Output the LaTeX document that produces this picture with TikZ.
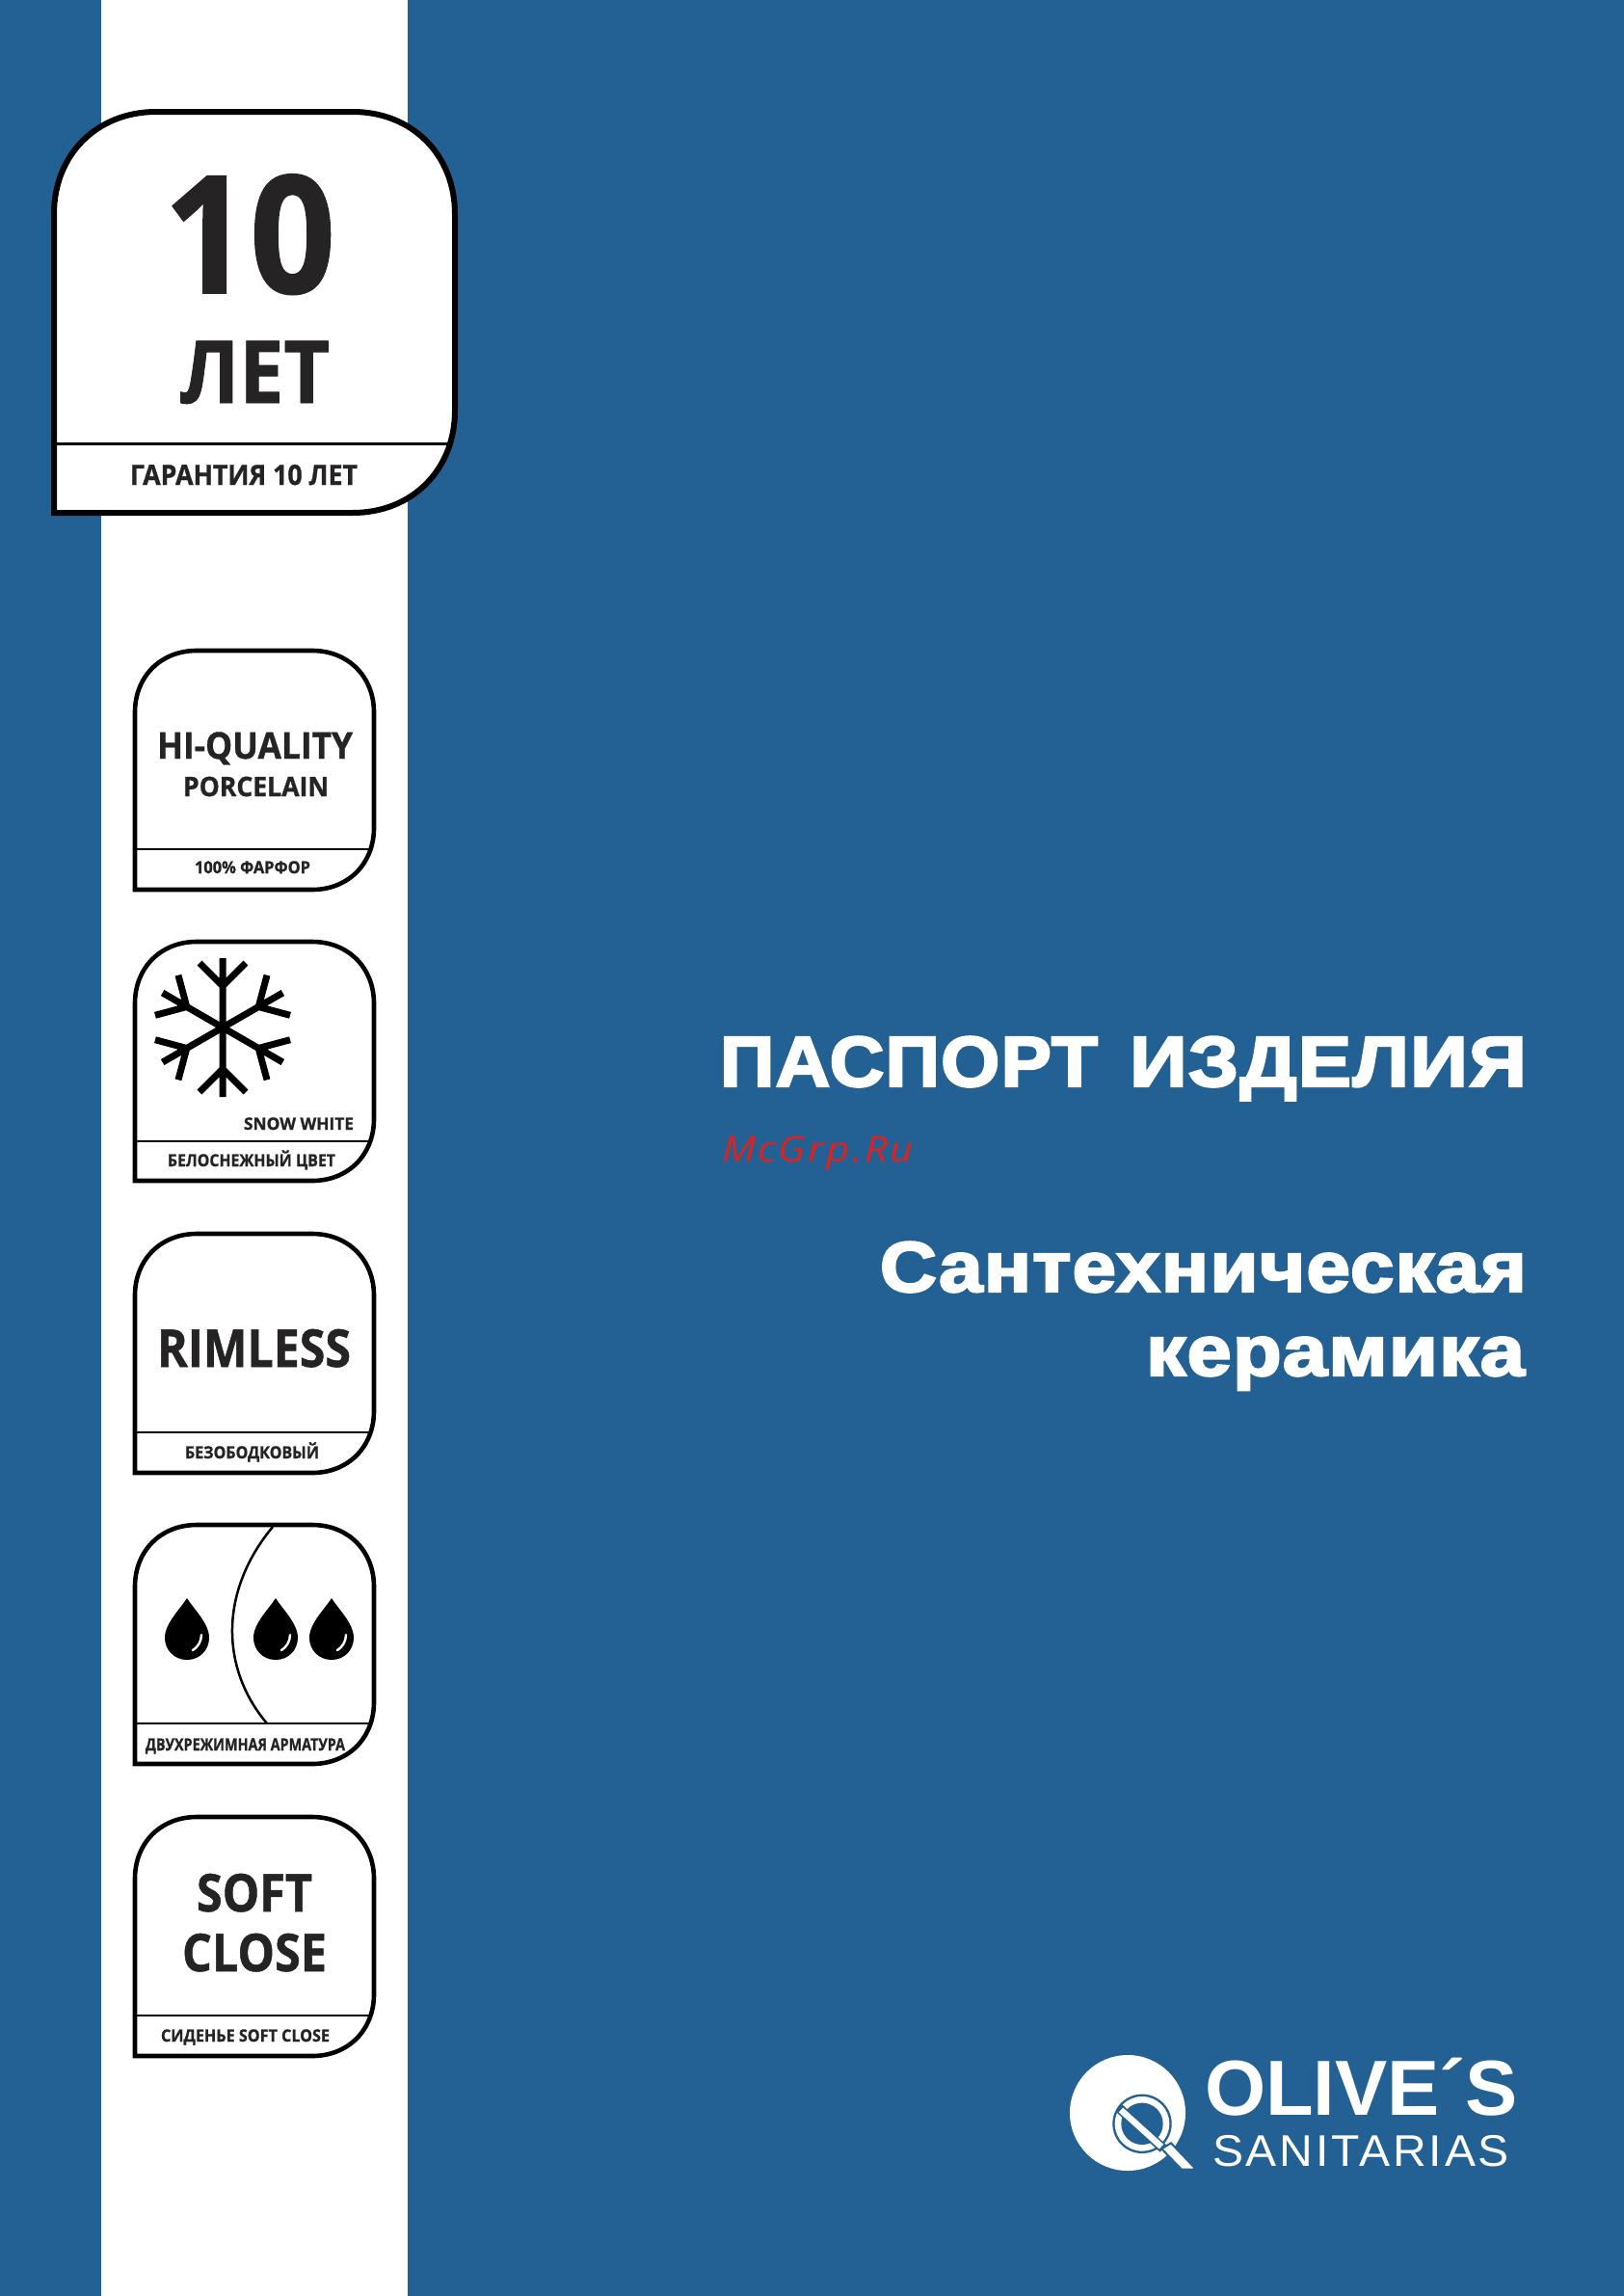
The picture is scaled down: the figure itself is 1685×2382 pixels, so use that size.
\documentclass[tikz,border=0pt]{standalone}
\usepackage{fontspec}
\usepackage{graphicx}
\newfontfamily\obold[BoldFeatures={FakeBold=1}]{Open Sans}
\newfontfamily\tfont[LetterSpace=1.5,BoldFeatures={FakeBold=3}]{Liberation Sans}
\newfontfamily\lfont{Liberation Sans}
\newfontfamily\lsp[LetterSpace=6]{Liberation Sans}
\newfontfamily\mfont[LetterSpace=6]{Open Sans}
\definecolor{bluebg}{HTML}{236093}
\definecolor{ink}{HTML}{262324}
\definecolor{wmark}{HTML}{DD2222}
\newcommand\lbl[7][]{\node[lbl,#1] (#2) at (#3,#4) {\resizebox{#5pt}{\height}{\fontsize{#6}{#6}\selectfont #7}};}
% rounded badge path: left, top, right, bottom, radius
\newcommand\bpath[5]{(#1,#4) -- (#1,#2+#5) .. controls (#1,#2+#5*.42) and (#1+#5*.42,#2) .. (#1+#5,#2)
  -- (#3-#5,#2) .. controls (#3-#5*.42,#2) and (#3,#2+#5*.42) .. (#3,#2+#5)
  -- (#3,#4-#5) .. controls (#3,#4-#5*.42) and (#3-#5*.42,#4) .. (#3-#5,#4) -- cycle}
\newcommand\badge[4]{% top, divider y, divider width, unused
  \fill[white] \bpath{140}{#1}{388}{#1+248}{64};
  \begin{scope}\clip \bpath{140}{#1}{388}{#1+248}{64};
    \draw[line width=#3pt] (140,#2) -- (388,#2);
  \end{scope}
  \draw[smallb] \bpath{140}{#1}{388}{#1+248}{64};}
\newcommand\drop[1]{\begin{scope}[shift={(#1,1698)}]
  \fill[black] (0,-40) .. controls (6,-30) and (23,-14) .. (23,1) .. controls (23,14) and (13,24) .. (0,24)
    .. controls (-13,24) and (-23,14) .. (-23,1) .. controls (-23,-14) and (-6,-30) .. (0,-40) -- cycle;
  \draw[white,line width=2.4pt,line cap=round] (15,-2) .. controls (15,5) and (11,11) .. (6,14);
\end{scope}}
\tikzset{
  x=1pt,y=-1pt,
  lbl/.style={inner sep=0pt,outer sep=0pt,anchor=base west,text=ink,font=\obold\bfseries},
  ttl/.style={text=white,font=\tfont\bfseries},
  logob/.style={text=white,font=\lfont\bfseries},
  logor/.style={text=white,font=\lsp},
  wm/.style={text=wmark,font=\mfont\itshape},
  smallb/.style={draw=black,line width=4.6pt,line join=miter},
  flake/.style={draw=black,line width=7pt},
}
\begin{document}
\begin{tikzpicture}
\useasboundingbox (0,0) rectangle (1685,2382);
\fill[bluebg] (0,0) rectangle (1685,2382);
\fill[white] (105,0) rectangle (423,2382);

% large badge
\fill[white] \bpath{56}{116}{472}{532}{106};
\begin{scope}\clip \bpath{56}{116}{472}{532}{106};
  \draw[line width=3pt] (56,460) -- (472,460);
\end{scope}
\draw[draw=black,line width=6pt] \bpath{56}{116}{472}{532}{106};
\lbl{ten}{170}{304}{178}{170}{10}
\lbl{let}{187}{418}{155}{90}{ЛЕТ}
\lbl{guar}{135}{503}{236}{29}{ГАРАНТИЯ 10 ЛЕТ}

% small badges
\badge{675}{881}{2.5}{}
\lbl{hiq}{163}{787}{203}{38}{HI-QUALITY}
\lbl{porc}{190}{826}{151}{28}{PORCELAIN}
\lbl{farf}{202}{906}{120}{17.5}{100\% ФАРФОР}

\badge{977}{1184}{2.5}{}
\begin{scope}[shift={(231,1066)}]
  \foreach \a in {0,60,...,300}{
    \draw[flake,rotate=\a] (0,0) -- (0,72) (0,43) -- (24,67) (0,43) -- (-24,67);
  }
\end{scope}
\lbl{snow}{253}{1172}{114}{17.5}{SNOW WHITE}
\lbl{bel}{174}{1210}{174}{17.5}{БЕЛОСНЕЖНЫЙ ЦВЕТ}

\badge{1280}{1486}{1.5}{}
\lbl{rim}{163}{1418}{201}{54}{RIMLESS}
\lbl{bez}{192}{1513}{139}{17.5}{БЕЗОБОДКОВЫЙ}

\badge{1582}{1788}{2.5}{}
\begin{scope}\clip \bpath{140}{1582}{388}{1788}{64};
\draw[line width=2.5pt] (283,1584) .. controls (228,1650) and (228,1730) .. (277,1788);
\end{scope}
\drop{194}\drop{286}\drop{344}
\lbl{dual}{151}{1816}{207}{17.5}{ДВУХРЕЖИМНАЯ АРМАТУРА}

\badge{1885}{2091}{1.5}{}
\lbl{soft}{204}{1983}{120}{54}{SOFT}
\lbl{close}{189}{2045}{150}{54}{CLOSE}
\lbl{sid}{167}{2118}{175}{17.5}{СИДЕНЬЕ SOFT CLOSE}

% titles
\lbl[ttl]{t1}{747}{1127}{392}{74}{ПАСПОРТ}
\lbl[ttl]{t1b}{1172}{1127}{412}{74}{ИЗДЕЛИЯ}
\lbl[wm]{wmk}{749}{1205}{199}{37}{McGrp.Ru}
\lbl[ttl]{t2}{913}{1340}{671}{74}{Сантехническая}
\lbl[ttl]{t3}{1189}{1427}{393}{74}{керамика}

% logo
\fill[white] (1170,2192) circle[radius=60];
\fill[bluebg] (1185,2203.3) circle[radius=30.7];
\fill[white] (1185,2203.3) circle[radius=28.3];
\fill[bluebg] (1185,2203.3) circle[radius=21.7];
\draw[bluebg,line width=10pt] (1161,2187) -- (1207,2229);
\draw[white,line width=6.5pt] (1163,2189) -- (1205,2227);
\filldraw[fill=white,draw=bluebg,line width=2pt,line join=miter] (1205.3,2229.3) -- (1215,2223.3) -- (1241,2250.7) -- (1226,2250.7) -- cycle;
\lbl[logob]{ol}{1250}{2194}{325}{81}{OLIVE´S}
\lbl[logor]{san}{1258}{2247}{308}{46}{SANITARIAS}
\end{tikzpicture}
\end{document}
